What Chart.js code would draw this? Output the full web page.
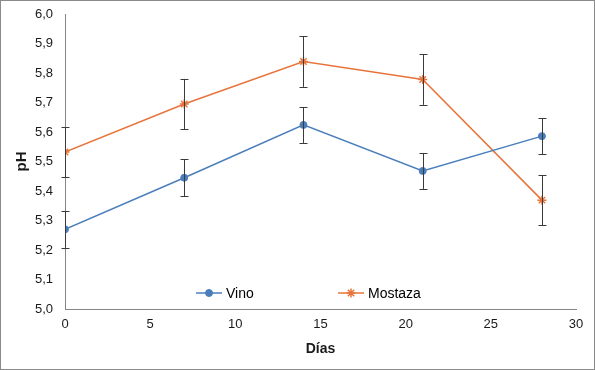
<!DOCTYPE html>
<html>
<head>
<meta charset="utf-8">
<script src="https://cdn.jsdelivr.net/npm/chart.js@4.4.1/dist/chart.umd.min.js"></script>
<style>
  html, body { margin: 0; padding: 0; background: #fff; }
  #wrap { width: 593px; height: 368px; border: 1px solid #8a8a8a; position: relative; }
</style>
</head>
<body>
<div id="wrap"><canvas id="phChart" width="593" height="368"></canvas></div>
<script>
const dias = [0, 7, 14, 21, 28];
const vino = [5.27, 5.445, 5.624, 5.468, 5.586];
const vinoErr = [0.062, 0.062, 0.061, 0.061, 0.061];
const mostaza = [5.532, 5.695, 5.839, 5.778, 5.369];
const mostazaErr = [0.085, 0.085, 0.086, 0.086, 0.085];
const yMin = 5.0, yMax = 6.0, yStep = 0.1;
const xMin = 0, xMax = 30, xStep = 5;

const blue = "#4a7ebb";
const orange = "#e8743b";

// error bars drawn through the chart scales
const errorBars = {
  id: "errorBars",
  afterDatasetsDraw(chart) {
    const ctx = chart.ctx;
    const xs = chart.scales.x, ys = chart.scales.y;
    ctx.save();
    ctx.strokeStyle = "#3a3a3a";
    ctx.lineWidth = 1;
    chart.data.datasets.forEach(ds => {
      ds.data.forEach((p, i) => {
        const e = ds.errors[i];
        const px = Math.round(xs.getPixelForValue(p.x)) + 0.5;
        const top = ys.getPixelForValue(p.y + e);
        const bot = ys.getPixelForValue(p.y - e);
        ctx.beginPath();
        ctx.moveTo(px, top); ctx.lineTo(px, bot);
        ctx.moveTo(px - 4, Math.round(top) + 0.5); ctx.lineTo(px + 4, Math.round(top) + 0.5);
        ctx.moveTo(px - 4, Math.round(bot) + 0.5); ctx.lineTo(px + 4, Math.round(bot) + 0.5);
        ctx.stroke();
      });
    });
    ctx.restore();
  }
};

// legend inside the plot area, near the bottom
const innerLegend = {
  id: "innerLegend",
  afterDraw(chart) {
    const ctx = chart.ctx;
    const area = chart.chartArea;
    const y = area.bottom - 16;
    let x = area.left + 131;
    ctx.save();
    ctx.font = "14px 'Liberation Sans', Arial, sans-serif";
    ctx.textBaseline = "middle";
    chart.data.datasets.forEach(ds => {
      ctx.strokeStyle = ds.borderColor;
      ctx.lineWidth = 1.5;
      ctx.beginPath();
      ctx.moveTo(x, y); ctx.lineTo(x + 26, y);
      ctx.stroke();
      ctx.fillStyle = ds.pointBackgroundColor;
      ctx.strokeStyle = ds.pointBorderColor;
      ctx.lineWidth = ds.pointBorderWidth;
      Chart.helpers.drawPoint(ctx, {
        pointStyle: ds.pointStyle, radius: ds.pointRadius, borderWidth: ds.pointBorderWidth
      }, x + 13, y);
      ctx.fillStyle = "#000";
      ctx.fillText(ds.label, x + 30, y + 1);
      x += 142;
    });
    ctx.restore();
  }
};

function pts(ys) {
  return dias.map((d, i) => ({ x: d, y: ys[i] }));
}

const ctx = document.getElementById("phChart").getContext("2d");
new Chart(ctx, {
  type: "line",
  data: {
    datasets: [
      {
        label: "Vino",
        data: pts(vino),
        errors: vinoErr,
        borderColor: blue,
        backgroundColor: blue,
        pointBackgroundColor: blue,
        pointBorderColor: blue,
        pointStyle: "circle",
        pointRadius: 3.5,
        pointBorderWidth: 1,
        borderWidth: 1.5,
        tension: 0
      },
      {
        label: "Mostaza",
        data: pts(mostaza),
        errors: mostazaErr,
        borderColor: orange,
        backgroundColor: orange,
        pointBackgroundColor: orange,
        pointBorderColor: orange,
        pointStyle: "star",
        pointRadius: 4.5,
        pointBorderWidth: 1.5,
        borderWidth: 1.5,
        tension: 0
      }
    ]
  },
  options: {
    responsive: false,
    animation: false,
    layout: { padding: { left: 10, right: 18, top: 13, bottom: 8 } },
    plugins: {
      legend: { display: false },
      tooltip: { enabled: false }
    },
    scales: {
      x: {
        type: "linear",
        min: xMin, max: xMax,
        grid: { display: false, drawTicks: false },
        border: { display: true, color: "#868686", width: 1 },
        ticks: {
          stepSize: xStep,
          padding: 8,
          color: "#1a1a1a",
          font: { family: "'Liberation Sans', Arial, sans-serif", size: 13 },
          maxRotation: 0
        },
        title: {
          display: true, text: "Días", color: "#1a1a1a",
          font: { family: "'Liberation Sans', Arial, sans-serif", size: 14, weight: "bold" },
          padding: { top: 0, bottom: 3 }
        },
        afterFit(scale) { scale.height = 52; scale.paddingLeft = 0; scale.paddingRight = 0; }
      },
      y: {
        min: yMin, max: yMax,
        grid: { display: false, drawTicks: false },
        border: { display: true, color: "#868686", width: 1 },
        ticks: {
          stepSize: yStep,
          padding: 12,
          color: "#1a1a1a",
          font: { family: "'Liberation Sans', Arial, sans-serif", size: 13 },
          callback: v => v.toFixed(1).replace(".", ",")
        },
        title: {
          display: true, text: "pH", color: "#1a1a1a",
          font: { family: "'Liberation Sans', Arial, sans-serif", size: 15, weight: "bold" },
          padding: { top: 2, bottom: 0 }
        },
        afterFit(scale) { scale.width = 54; scale.paddingTop = 0; scale.paddingBottom = 0; }
      }
    }
  },
  plugins: [errorBars, innerLegend]
});
</script>
</body>
</html>
